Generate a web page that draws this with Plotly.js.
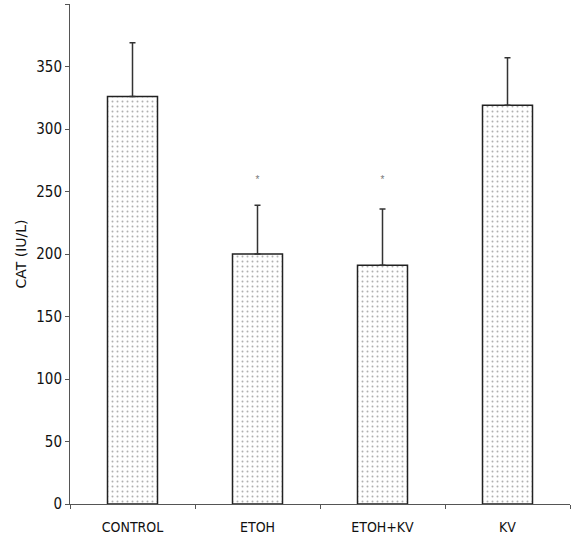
<!DOCTYPE html>
<html>
<head>
<meta charset="utf-8">
<script src="https://cdn.plot.ly/plotly-3.0.1.min.js"></script>
<style>html,body{margin:0;padding:0;background:#fff;}#chart{width:571px;height:543px;}</style>
</head>
<body>
<div id="chart"></div>
<script>
const categories = ["CONTROL", "ETOH", "ETOH+KV", "KV"];
const catValues = [326, 200, 191, 319];
const catErrors = [43, 39, 45, 38];
const sigCategories = ["ETOH", "ETOH+KV"];
const sigMarkY = [259, 259];
const sigText = ["*", "*"];
const yTickVals = [0, 50, 100, 150, 200, 250, 300, 350, 400];

const narrow = "DejaVu Sans Condensed, Liberation Sans Narrow, Arial Narrow, sans-serif";

const bars = {
  type: "bar",
  x: categories,
  y: catValues,
  marker: {
    color: "#ffffff",
    line: {color: "#222222", width: 1.5},
    pattern: {shape: ".", fgcolor: "#b0b0b0", bgcolor: "#ffffff", size: 5, solidity: 0.12}
  },
  error_y: {
    type: "data", symmetric: false, array: catErrors, arrayminus: [0, 0, 0, 0],
    color: "#333333", thickness: 1.5, width: 3
  },
  hoverinfo: "skip"
};

const stars = {
  type: "scatter",
  mode: "text",
  x: sigCategories,
  y: sigMarkY,
  text: sigText,
  textfont: {family: "Liberation Sans, Arial, sans-serif", size: 10, color: "#777777"},
  hoverinfo: "skip"
};

const layout = {
  width: 571, height: 543,
  margin: {l: 70, r: 1, t: 4, b: 39, pad: 0},
  paper_bgcolor: "#ffffff", plot_bgcolor: "#ffffff",
  showlegend: false,
  bargap: 0.6,
  xaxis: {
    type: "category",
    range: [-0.5, 3.5],
    showline: true, linecolor: "#555555", linewidth: 1,
    ticks: "outside", tickson: "boundaries", ticklen: 4, tickcolor: "#555555",
    ticklabelstandoff: 10,
    tickfont: {family: narrow, size: 14, color: "#111111"},
    showgrid: false, zeroline: false
  },
  yaxis: {
    range: [0, 400],
    tickvals: yTickVals,
    showline: true, linecolor: "#555555", linewidth: 1,
    ticks: "outside", ticklen: 4, tickcolor: "#555555",
    tickfont: {family: narrow, size: 15, color: "#111111"},
    showgrid: false, zeroline: false,
    title: {text: "CAT (IU/L)", font: {family: "DejaVu Sans, sans-serif", size: 14, color: "#111111"}, standoff: 6}
  }
};

Plotly.newPlot("chart", [bars, stars], layout, {displayModeBar: false, staticPlot: true});
</script>
</body>
</html>
